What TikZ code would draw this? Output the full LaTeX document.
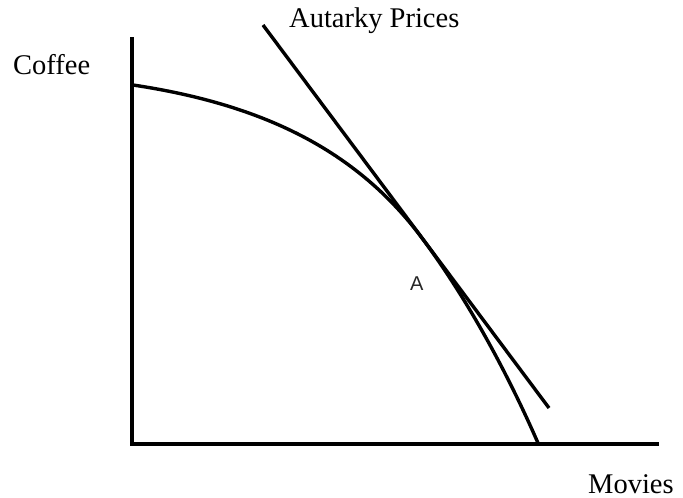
\documentclass[tikz,border=0pt]{standalone}
\usepackage{fontspec}
\setmainfont{Liberation Serif}
\newfontfamily\lsans{Liberation Sans}
\begin{document}
\begin{tikzpicture}[x=1pt,y=-1pt,
  axisline/.style={line width=4.2pt},
  curveline/.style={line width=3.4pt},
  lbl/.style={inner sep=0pt, anchor=base west, font=\fontsize{28.5}{34}\selectfont},
  ptlbl/.style={inner sep=0pt, anchor=base west, font=\lsans\fontsize{20}{24}\selectfont, text=black!85},
]
\useasboundingbox (0,0) rectangle (683,498);
% axes
\coordinate (Ytop) at (132,37);
\coordinate (O) at (132,444);
\coordinate (Xend) at (659,444);
\draw[axisline] (Ytop) -- (O) -- (Xend);
% production possibility frontier
\coordinate (P0) at (133,85);
\coordinate (T) at (422,238);
\coordinate (P3) at (538,443);
\draw[curveline] (P0) .. controls (270.8,105.7) and (360,155) .. (T)
  .. controls (473.2,306.9) and (512,383.6) .. (P3);
% autarky price line
\coordinate (L1) at (263,25);
\coordinate (L2) at (549,408);
\draw[curveline] (L1) -- (L2);
% labels
\node[lbl] (coffee) at (13,74) {Coffee};
\node[lbl] (autarky) at (289,27) {Autarky Prices};
\node[lbl] (movies) at (588,493) {Movies};
\node[ptlbl] (A) at (410,290) {A};
\end{tikzpicture}
\end{document}
